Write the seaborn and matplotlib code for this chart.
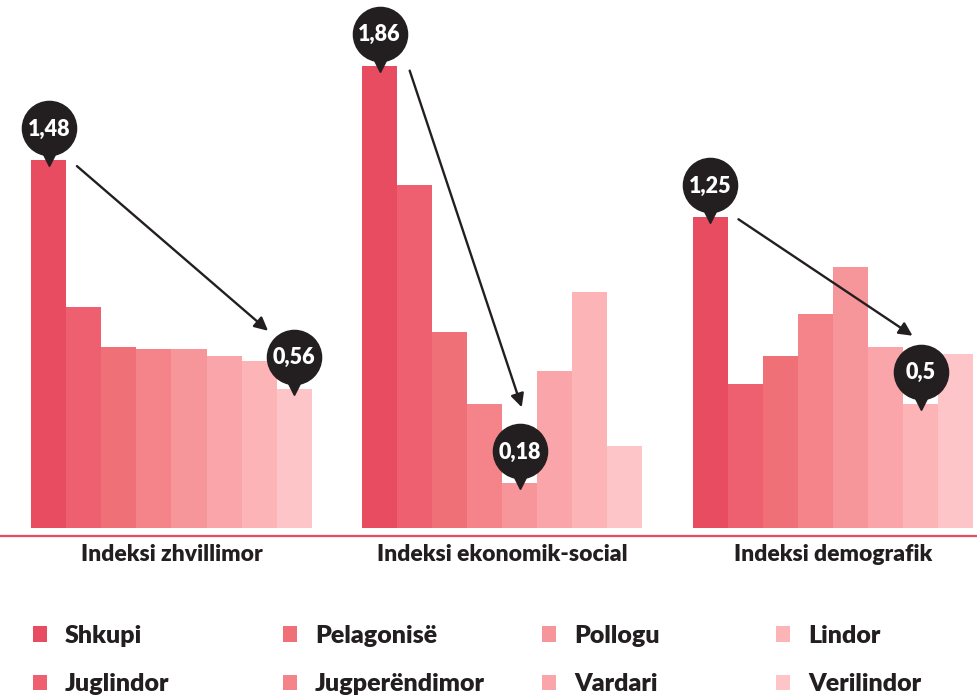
import matplotlib
matplotlib.use('Agg')
import matplotlib.pyplot as plt
from matplotlib.patches import Patch
from matplotlib.transforms import offset_copy
import seaborn as sns
import pandas as pd

# ====================== DATA ======================
groups = ['Indeksi zhvillimor', 'Indeksi ekonomik-social', 'Indeksi demografik']
regions = ['Shkupi', 'Juglindor', 'Pelagonisë', 'Jugperëndimor',
           'Pollogu', 'Vardari', 'Lindor', 'Verilindor']
zhvillimor = [1.48, 0.89, 0.73, 0.72, 0.72, 0.69, 0.67, 0.56]
ekonomik_social = [1.86, 1.38, 0.79, 0.50, 0.18, 0.63, 0.95, 0.33]
demografik = [1.25, 0.58, 0.69, 0.86, 1.05, 0.73, 0.50, 0.70]

# highlighted max / min per group and their labels
pin_high = ['Shkupi', 'Shkupi', 'Shkupi']
pin_low = ['Verilindor', 'Pollogu', 'Lindor']
pin_high_text = ['1,48', '1,86', '1,25']
pin_low_text = ['0,56', '0,18', '0,5']

palette = ['#E84C61', '#EE5F6F', '#F07077', '#F5848A',
           '#F7969A', '#FAA5A9', '#FCB4B7', '#FDC5C8']
DARK = '#231F20'
RED = '#E84C61'

df = pd.DataFrame({
    'group': [g for g in groups for _ in regions],
    'region': regions * 3,
    'value': zhvillimor + ekonomik_social + demografik,
})

# ====================== PLOT ======================
sns.set_style('white')
plt.rcParams['font.family'] = ['Lato', 'DejaVu Sans']

W, H = 978, 698
fig = plt.figure(figsize=(W / 100, H / 100), dpi=100)
ax = fig.add_axes([0, 1 - 536 / H, 1, 536 / H])

BAR_W = 0.847
sns.barplot(data=df, x='group', y='value', hue='region', order=groups,
            hue_order=regions, palette=palette, saturation=1, width=BAR_W,
            gap=0, legend=False, linewidth=0, ax=ax)

ax.set_xlim(-0.5185, 2.4384)
ax.set_ylim(-0.0322, 2.124)
for s in ['top', 'left', 'right']:
    ax.spines[s].set_visible(False)
ax.spines['bottom'].set_color(RED)
ax.spines['bottom'].set_linewidth(1.6)
ax.set_yticks([])
ax.set_xlabel('')
ax.set_ylabel('')
ax.tick_params(axis='x', length=0, pad=6)
ax.set_xticks(range(3))
ax.set_xticklabels(groups, fontsize=16.5, fontweight='heavy', color=DARK)


def bar_pos(gi, region):
    ri = regions.index(region)
    x = gi - BAR_W / 2 + (ri + 0.5) * BAR_W / len(regions)
    y = df[(df.group == groups[gi]) & (df.region == region)].value.iloc[0]
    return x, y


def shifted(dx, dy):
    return offset_copy(ax.transData, fig=fig, x=dx, y=dy, units='dots')


def pin(x, y, label):
    ax.plot([x], [y], marker='v', ms=16, color=DARK, transform=shifted(0, 5),
            clip_on=False, zorder=5)
    ax.plot([x], [y], marker='o', ms=39, color=DARK, transform=shifted(0, 32),
            clip_on=False, zorder=5)
    ax.text(x, y, label, transform=shifted(0, 31), ha='center', va='center',
            color='white', fontsize=15.5, fontweight='heavy', zorder=6)


# arrow offsets in pixels: (start dx, start dy) from top bar, (end dx, end dy) from low bar
arrow_offsets = [((28, -6), (-26, 58)), ((30, -5), (2, 76)), ((28, -2), (-8, 68))]

for gi in range(3):
    hx, hy = bar_pos(gi, pin_high[gi])
    lx, ly = bar_pos(gi, pin_low[gi])
    (sdx, sdy), (edx, edy) = arrow_offsets[gi]
    ax.annotate('', xy=(lx, ly), xycoords=shifted(edx, edy),
                xytext=(hx, hy), textcoords=shifted(sdx, sdy),
                arrowprops=dict(arrowstyle='-|>', color=DARK, lw=1.7,
                                mutation_scale=20, shrinkA=0, shrinkB=0),
                zorder=4)
    pin(hx, hy, pin_high_text[gi])
    pin(lx, ly, pin_low_text[gi])

# ====================== LEGEND ======================
col_x = [33, 283, 542, 776]
for c in range(4):
    names = regions[2 * c:2 * c + 2]
    handles = [Patch(facecolor=palette[regions.index(n)], edgecolor='none') for n in names]
    fig.legend(handles, names, loc='upper left',
               bbox_to_anchor=(col_x[c] / W, 1 - 625 / H),
               frameon=False, borderpad=0, borderaxespad=0,
               prop={'weight': 'heavy', 'size': 18},
               handlelength=0.56, handleheight=0.6, handletextpad=0.72,
               labelspacing=1.05, labelcolor=DARK)

fig.savefig('out.png', dpi=100)
